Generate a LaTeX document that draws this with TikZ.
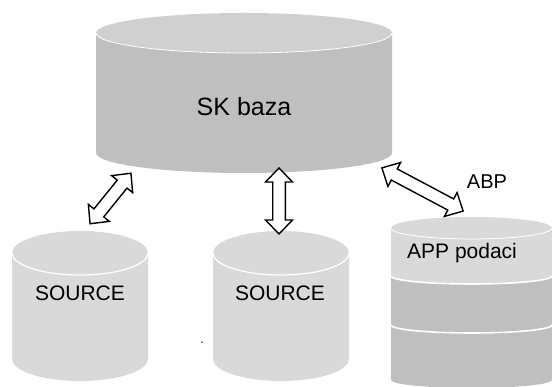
\documentclass[tikz,border=0pt]{standalone}
\usepackage{fontspec}
\setmainfont{Liberation Sans}
\usetikzlibrary{calc}
\definecolor{bodygray}{HTML}{BFBFBF}
\definecolor{topgray}{HTML}{D0D0D0}
\definecolor{lightgray}{HTML}{D9D9D9}
\tikzset{
  pics/dblarr/.style={code={
    \draw[line width=1.4pt, fill=white, line join=miter]
      ({-#1/2},0) -- ({-#1/2+14},13.5) -- ({-#1/2+14},6.3) -- ({#1/2-14},6.3) -- ({#1/2-14},13.5) -- ({#1/2},0)
      -- ({#1/2-14},-13.5) -- ({#1/2-14},-6.3) -- ({-#1/2+14},-6.3) -- ({-#1/2+14},-13.5) -- cycle;}},
  edgeline/.style={draw=white, line width=1.2pt},
  lbl/.style={inner sep=0pt, text=black}
}
\begin{document}
\begin{tikzpicture}[x=1pt,y=1pt]
\useasboundingbox (0,0) rectangle (552,387);
% big cylinder
\fill[bodygray] (96,354) -- (96,234) arc[start angle=180,end angle=360,x radius=148,y radius=20] -- (392,354) -- cycle;
\fill[topgray] (244,354) ellipse[x radius=148,y radius=20];
\draw[edgeline, line width=0.8pt] (96,354) arc[start angle=180,end angle=360,x radius=148,y radius=20];
\node[lbl, font=\fontsize{25}{30}\selectfont] (sk) at (244,280) {SK baza};
% left source
\fill[lightgray] (12,134) -- (12,28) arc[start angle=180,end angle=360,x radius=68,y radius=22] -- (148,134) -- cycle;
\fill[lightgray] (80,134) ellipse[x radius=68,y radius=22];
\draw[edgeline] (12,134) arc[start angle=180,end angle=360,x radius=68,y radius=22];
\node[lbl, font=\fontsize{21}{25}\selectfont] (src1) at (80,94) {SOURCE};
% middle source
\fill[lightgray] (213,134) -- (213,28) arc[start angle=180,end angle=360,x radius=68,y radius=22] -- (349,134) -- cycle;
\fill[lightgray] (281,134) ellipse[x radius=68,y radius=22];
\draw[edgeline] (213,134) arc[start angle=180,end angle=360,x radius=68,y radius=22];
\node[lbl, font=\fontsize{21}{25}\selectfont] (src2) at (280,94) {SOURCE};
\node[lbl, font=\fontsize{12}{14}\selectfont] (dot) at (202,44) {.};
% right cylinder (APP podaci)
\fill[bodygray] (391,111) -- (391,7) arc[start angle=180,end angle=360,x radius=80.5,y radius=8] -- (552,111) -- cycle;
\fill[lightgray] (391,159) -- (391,111) arc[start angle=180,end angle=360,x radius=80.5,y radius=8] -- (552,159) -- cycle;
\fill[lightgray] (471.5,159) ellipse[x radius=80.5,y radius=11];
\draw[edgeline, line width=0.8pt] (391,159) arc[start angle=180,end angle=360,x radius=80.5,y radius=11];
\draw[edgeline, line width=1.6pt] (391,111) arc[start angle=180,end angle=360,x radius=80.5,y radius=8];
\draw[edgeline, line width=1.6pt] (391,62) arc[start angle=180,end angle=360,x radius=80.5,y radius=8];
\node[lbl, anchor=west, font=\fontsize{21}{25}\selectfont] (app) at (407,134) {APP podaci};
\node[lbl, font=\fontsize{20}{24}\selectfont] (abp) at (487,205) {ABP};
% arrows
\coordinate (l1) at (90,163);
\coordinate (l2) at (131,214);
\coordinate (m1) at (279,153);
\coordinate (m2) at (279,219);
\coordinate (r1) at (382,219);
\coordinate (r2) at (463,176);
\pic[rotate=51] at ($(l1)!0.5!(l2)$) {dblarr=65};
\pic[rotate=90] at ($(m1)!0.5!(m2)$) {dblarr=66};
\pic[rotate=-28] at ($(r1)!0.5!(r2)$) {dblarr=92};
\end{tikzpicture}
\end{document}
